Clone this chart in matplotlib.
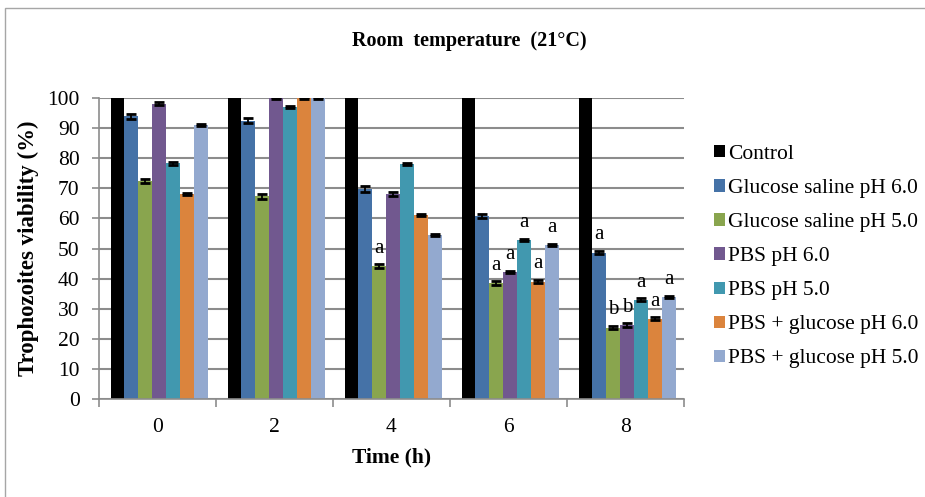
import numpy as np
import matplotlib
matplotlib.use("Agg")
import matplotlib.pyplot as plt
from matplotlib.patches import Patch, Rectangle

plt.rcParams['font.family'] = ['Liberation Serif', 'DejaVu Serif']

# data
times = ['0', '2', '4', '6', '8']
series = ['Control', 'Glucose saline pH 6.0', 'Glucose saline pH 5.0',
          'PBS pH 6.0', 'PBS pH 5.0', 'PBS + glucose pH 6.0', 'PBS + glucose pH 5.0']
control = [100, 100, 100, 100, 100]
gs_ph6 = [93.9, 92.5, 69.8, 60.8, 48.6]
gs_ph5 = [72.4, 67.4, 44.1, 38.5, 23.7]
pbs_ph6 = [98.1, 100, 68.1, 42.1, 24.6]
pbs_ph5 = [78.3, 97.0, 78.0, 52.9, 32.9]
pbsg_ph6 = [68.1, 100, 61.1, 39.0, 26.6]
pbsg_ph5 = [91.1, 100, 54.4, 51.1, 33.9]

control_err = [0, 0, 0, 0, 0]
gs_ph6_err = [0.8, 0.9, 0.9, 0.8, 0.5]
gs_ph5_err = [0.8, 0.8, 0.7, 0.7, 0.4]
pbs_ph6_err = [0.5, 0.3, 0.8, 0.3, 0.6]
pbs_ph5_err = [0.6, 0.3, 0.3, 0.4, 0.5]
pbsg_ph6_err = [0.4, 0.3, 0.4, 0.4, 0.5]
pbsg_ph5_err = [0.3, 0.3, 0.3, 0.4, 0.4]

# significance letters (None = no letter)
gs_ph6_sig = [None, None, None, None, 'a']
gs_ph5_sig = [None, None, 'a', 'a', 'b']
pbs_ph6_sig = [None, None, None, 'a', 'b']
pbs_ph5_sig = [None, None, None, 'a', 'a']
pbsg_ph6_sig = [None, None, None, 'a', 'a']
pbsg_ph5_sig = [None, None, None, 'a', 'a']

values = [control, gs_ph6, gs_ph5, pbs_ph6, pbs_ph5, pbsg_ph6, pbsg_ph5]
errors = [control_err, gs_ph6_err, gs_ph5_err, pbs_ph6_err, pbs_ph5_err, pbsg_ph6_err, pbsg_ph5_err]
letters = [[None] * 5, gs_ph6_sig, gs_ph5_sig, pbs_ph6_sig, pbs_ph5_sig, pbsg_ph6_sig, pbsg_ph5_sig]
colors = ['#000000', '#4572A7', '#89A54E', '#71588F', '#4198AF', '#DB843D', '#93A9CF']

fig = plt.figure(figsize=(9.25, 4.97), dpi=100)
ax = fig.add_axes([99 / 925, 1 - 399 / 497, 585 / 925, 301 / 497])

# outer chart frame
fig.patches.append(Rectangle((5 / 925, -0.1), 1.2, 1.1 - 8 / 497, transform=fig.transFigure,
                             fill=False, edgecolor='#a6a6a6', linewidth=1.0))

x = np.arange(len(times))
w = 0.119
for i, (vals, errs, col) in enumerate(zip(values, errors, colors)):
    pos = x + (i - 3) * w + 0.015
    ax.bar(pos, vals, w, color=col, zorder=2)
    if i > 0:
        ax.errorbar(pos, vals, yerr=errs, fmt='none', ecolor='black', elinewidth=1.3,
                    capsize=3.5, capthick=2, zorder=3)
    for p, v, lt in zip(pos, vals, letters[i]):
        if lt:
            ax.text(p, v + 4.4, lt, ha='center', va='baseline', fontsize=15)

ax.set_xlim(-0.5, 4.5)
ax.set_ylim(0, 100)
ax.set_yticks(range(0, 101, 10))
ax.set_xticks(x)
ax.set_xticklabels(times)
ax.set_xticks(np.arange(-0.5, 5, 1), minor=True)
ax.yaxis.grid(True, color='#8c8c8c', linewidth=1.5)
ax.set_axisbelow(True)

for s in ['top', 'right']:
    ax.spines[s].set_visible(False)
for s in ['left', 'bottom']:
    ax.spines[s].set_color('#8c8c8c')
    ax.spines[s].set_linewidth(1.2)

ax.tick_params(axis='y', direction='out', length=5, width=1.2, color='#8c8c8c', pad=9, labelsize=15.5)
ax.tick_params(axis='x', which='major', length=0, pad=14, labelsize=15.5)
ax.tick_params(axis='x', which='minor', direction='out', length=6, width=1.2, color='#8c8c8c')

ax.set_xlabel('Time (h)', fontsize=15.5, fontweight='bold', labelpad=7)
ax.set_ylabel('Trophozoites viability (%)', fontsize=16.5, fontweight='bold', labelpad=6)
fig.text(0.507, 0.918, 'Room  temperature  (21°C)', ha='center', va='center',
         fontsize=14.5, fontweight='bold')

handles = [Patch(facecolor=c, edgecolor='none') for c in colors]
fig.legend(handles, series, loc='upper left', bbox_to_anchor=(714 / 925, 1 - 145 / 497),
           frameon=False, fontsize=15.5, handlelength=0.5, handleheight=0.5,
           handletextpad=0.15, labelspacing=0.70, borderaxespad=0, borderpad=0)

fig.savefig('out.png', dpi=100)
